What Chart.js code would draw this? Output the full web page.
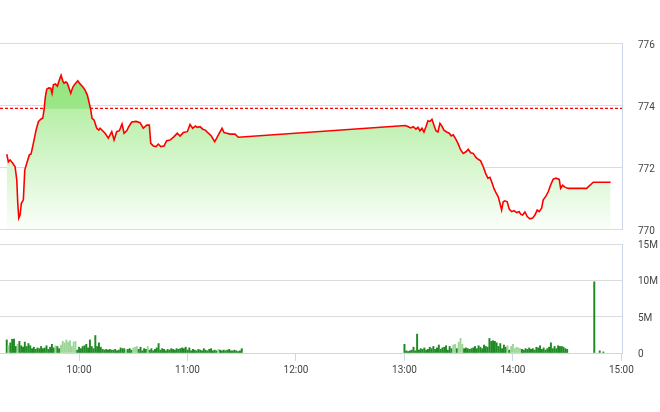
<!DOCTYPE html>
<html><head><meta charset="utf-8">
<script src="https://cdn.jsdelivr.net/npm/chart.js@4.4.1/dist/chart.umd.min.js"></script>
<style>
html,body{margin:0;padding:0;background:#fff;width:660px;height:412px;overflow:hidden}
canvas{position:absolute;left:0;display:block}
#price{top:0}
#vol{top:236px}
</style></head><body>
<canvas id="price" width="660" height="238" style="width:660px;height:238px"></canvas>
<canvas id="vol" width="660" height="176" style="width:660px;height:176px"></canvas>
<script>
// ---------- data ----------
const priceTimes = [
"09:20:00","09:20:54","09:21:50","09:23:20","09:24:37","09:25:33","09:26:06","09:26:39","09:27:22","09:28:05",
"09:29:11","09:29:58","09:31:04","09:32:31","09:33:27","09:34:43","09:36:13","09:37:29","09:38:49","09:39:55",
"09:40:38","09:41:22","09:42:08","09:43:14","09:44:21","09:45:04","09:45:47","09:46:53","09:48:00","09:49:06",
"09:50:02","09:50:59","09:51:42","09:52:38","09:53:32","09:54:28","09:55:25","09:56:31","09:57:47","09:59:17",
"10:00:33","10:02:02","10:03:19","10:04:35","10:05:41","10:06:28","10:07:11","10:08:17","10:09:47","10:10:53",
"10:11:37","10:14:23","10:16:12","10:18:05","10:19:21","10:20:51","10:22:17","10:23:47","10:24:53","10:26:23",
"10:27:29","10:29:08","10:31:31","10:33:44","10:35:33","10:37:26","10:38:52","10:39:39","10:41:05","10:42:35",
"10:43:51","10:45:11","10:47:00","10:48:29","10:50:19","10:52:32","10:54:22","10:55:51","10:57:40","10:59:53",
"11:01:23","11:02:52","11:04:19","11:05:25","11:06:55","11:08:24","11:09:50","11:11:30","11:13:10","11:15:02",
"11:16:08","11:17:35","11:19:05","11:20:11","11:21:41","11:23:30","11:26:16","11:28:05",
"13:00:30","13:02:06","13:03:25","13:04:52","13:06:22","13:07:28","13:08:34","13:09:41","13:10:47","13:11:53",
"13:13:00","13:14:06","13:15:13","13:16:19","13:17:25","13:18:31","13:19:38","13:20:44","13:21:50","13:23:20",
"13:24:46","13:25:53","13:26:59","13:28:29","13:29:35","13:31:05","13:32:31","13:34:01","13:35:17","13:36:37",
"13:38:02","13:39:32","13:40:49","13:42:08","13:43:35","13:45:04","13:46:10","13:47:17","13:48:23","13:49:29",
"13:50:36","13:51:52","13:52:49","13:53:45","13:54:38","13:55:35","13:56:51","13:57:57","13:59:17","14:00:33",
"14:02:03","14:03:29","14:04:16","14:05:22","14:06:38","14:07:55","14:09:24","14:10:53","14:12:10","14:13:26",
"14:14:32","14:15:52","14:16:46","14:18:15","14:19:31","14:20:51","14:22:17","14:23:47","14:25:37","14:26:23",
"14:27:29","14:28:46","14:30:35","14:40:46","14:44:25","14:54:02"
];
const priceValues = [
772.41,772.17,772.23,772.12,772.01,771.58,770.83,770.35,770.45,770.83,
770.94,771.90,772.12,772.39,772.42,772.76,773.19,773.46,773.54,773.57,
773.84,774.27,774.51,774.55,774.54,774.38,774.65,774.68,774.61,774.81,
774.96,774.78,774.70,774.75,774.70,774.54,774.38,774.57,774.68,774.78,
774.68,774.59,774.48,774.32,774.05,773.84,773.57,773.52,773.25,773.19,
773.25,773.09,772.93,773.14,772.87,773.14,773.17,773.39,773.09,773.17,
773.30,773.45,773.47,773.43,773.25,773.35,773.35,772.76,772.68,772.66,
772.74,772.66,772.68,772.85,772.87,772.98,773.09,773.00,773.11,773.14,
773.37,773.25,773.32,773.28,773.30,773.22,773.19,773.09,773.00,772.82,
772.93,773.09,773.25,773.11,773.09,773.06,773.06,772.96,
773.34,773.30,773.26,773.30,773.22,773.28,773.17,773.25,773.13,773.30,
773.49,773.47,773.54,773.35,773.17,773.13,773.41,773.32,773.19,773.13,
773.09,773.00,773.04,772.89,772.76,772.55,772.44,772.49,772.57,772.46,
772.44,772.31,772.25,772.20,772.01,771.77,771.64,771.67,771.50,771.31,
771.17,771.04,770.83,770.61,770.88,770.91,770.88,770.64,770.56,770.59,
770.53,770.56,770.48,770.45,770.55,770.40,770.33,770.35,770.45,770.61,
770.56,770.67,770.94,771.06,771.20,771.42,771.61,771.64,771.60,771.31,
771.41,771.35,771.31,771.31,771.51,771.51
];
const referencePrice = 773.89;
const priceTicks = [770, 772, 774, 776];

// volume per minute (millions), morning session from 09:20, afternoon from 13:00
const volMorningStart = "09:20";
const volMorning = [
1.8,1.0,1.4,1.9,1.9,0.9,1.2,1.6,1.0,0.8,
1.5,0.9,1.3,1.0,0.6,0.8,0.5,0.7,0.6,0.9,
0.6,0.7,1.0,0.5,0.8,1.2,0.7,1.0,0.9,0.6,
1.1,1.6,1.4,1.8,1.5,1.7,0.9,1.5,1.6,0.4,
0.8,0.6,0.9,1.0,1.2,0.7,1.8,0.9,0.6,2.4,
0.9,1.4,0.8,0.5,0.4,0.5,0.4,0.5,0.4,0.4,
0.5,0.3,0.4,0.7,0.6,0.6,0.4,0.5,0.6,0.4,
0.7,0.8,0.9,0.5,0.8,0.3,0.6,0.5,0.9,0.4,
0.6,0.3,0.5,0.7,1.3,0.4,0.6,0.5,0.3,0.5,
0.4,0.6,0.5,0.4,0.6,0.5,0.6,0.7,0.6,0.8,
0.4,0.7,0.3,0.5,0.4,0.3,0.5,0.4,0.3,0.6,
0.4,0.3,0.5,0.6,0.3,0.4,0.3,0.5,0.4,0.3,
0.4,0.3,0.4,0.5,0.3,0.3,0.4,0.3,0.2,0.3,
0.6
];
const volMorningShade =
"dlddddlddd"+"dddddddddd"+"dddddddldd"+"llllllllld"+"dddddddddd"+"dddddddddd"+"ddddddlddd"+
"llldddddld"+"dddddddddd"+"dddddddddd"+"dddddddddd"+"dddddddldd"+"dddddddddd"+"d";
const volAfternoonStart = "13:00";
const volAfternoon = [
1.2,0.3,0.2,0.3,0.4,0.8,0.3,2.6,0.4,0.6,
0.5,0.7,0.4,0.5,0.8,0.6,0.9,0.5,0.7,1.1,
0.5,0.7,0.8,1.0,0.4,0.9,0.6,1.1,1.2,0.6,
1.5,2.0,1.2,0.6,0.7,0.6,0.5,0.6,0.7,0.9,
0.6,1.0,0.8,0.6,1.1,0.9,0.8,2.0,1.6,1.7,
1.6,1.4,0.9,1.3,0.6,1.1,0.8,1.0,0.4,0.9,
1.2,0.6,0.8,0.7,0.6,0.5,0.4,0.6,0.5,0.7,
0.5,0.6,0.4,0.8,0.7,1.0,0.5,0.7,0.4,0.6,
0.8,1.4,0.6,0.9,0.6,1.0,0.9,0.9,0.8,0.6,
0.5
];
const volAfternoonShade =
"dddddddddd"+"dddddddddd"+"dddddddlld"+"lllddddddd"+"dddddddddd"+"dddddddldl"+"lllllddddd"+
"dddddddddd"+"dddddddddd"+"d";
const volCloseTimes = ["14:45","14:48","14:50"];
const volClose = [9.8, 0.3, 0.15];
const volCloseShade = "ddd";

const timeTicks = ["10:00","11:00","12:00","13:00","14:00","15:00"];
const volumeTicks = [0, 5, 10, 15];
const axisStart = "09:16:16", axisEnd = "15:00:20";

// ---------- helpers ----------
function toSec(t){const p=t.split(':').map(Number);return p[0]*3600+p[1]*60+(p[2]||0);}
function fmtTime(s){const h=Math.floor(s/3600),m=Math.round((s-h*3600)/60);return h+':'+String(m).padStart(2,'0');}
const xMin = toSec(axisStart), xMax = toSec(axisEnd);
const FONT = {family:'Roboto', size:10};
const TICK_COLOR = '#444';
const GRID = '#dcdcdc';
const AXIS = '#ccd6eb';
function fixY(s){ s.width = 38; s.paddingTop = 0; s.paddingBottom = 0; }

const priceData = priceTimes.map((t,i)=>({x:toSec(t), y:priceValues[i]}));
const refData = [{x:xMin,y:referencePrice},{x:xMax,y:referencePrice}];

const volData = [], volColors = [];
const DARK = '#1f8a24', LIGHT = '#9ed69a';
function addSession(start, vals, shades){
  const s0 = toSec(start);
  vals.forEach((v,i)=>{volData.push({x:s0+i*60,y:v});volColors.push(shades[i]==='l'?LIGHT:DARK);});
}
addSession(volMorningStart, volMorning, volMorningShade);
addSession(volAfternoonStart, volAfternoon, volAfternoonShade);
volCloseTimes.forEach((t,i)=>{volData.push({x:toSec(t),y:volClose[i]});volColors.push(volCloseShade[i]==='l'?LIGHT:DARK);});

function fillGradient(ctx){
  const chart = ctx.chart, a = chart.chartArea;
  if(!a) return 'rgba(0,0,0,0)';
  const ry = chart.scales.y.getPixelForValue(referencePrice);
  let f = (ry - a.top)/(a.bottom - a.top); f = Math.max(0, Math.min(0.99, f));
  const g = chart.ctx.createLinearGradient(0, a.top, 0, a.bottom);
  g.addColorStop(0, 'rgb(140,226,118)');
  g.addColorStop(f, 'rgb(156,231,136)');
  g.addColorStop(f+0.003, 'rgb(184,239,168)');
  g.addColorStop(1, 'rgb(250,254,249)');
  return g;
}

// ---------- price chart ----------
new Chart(document.getElementById('price'), {
  type:'line',
  data:{datasets:[
    {data:priceData, borderColor:'#ff0000', borderWidth:1.6, pointRadius:0, tension:0,
     fill:'start', backgroundColor:fillGradient, order:1},
    {data:refData, borderColor:'#ff0000', borderWidth:1.3, borderDash:[3,2], pointRadius:0, fill:false, order:2}
  ]},
  options:{
    responsive:false, animation:false, devicePixelRatio:1,
    layout:{padding:{top:43,bottom:9,left:0,right:0}},
    plugins:{legend:{display:false}, tooltip:{enabled:false}},
    scales:{
      x:{type:'linear', min:xMin, max:xMax, display:false},
      y:{position:'right', min:770, max:776,
         afterFit:fixY,
         afterBuildTicks:s=>{s.ticks=priceTicks.map(v=>({value:v}));},
         grid:{color:GRID, drawTicks:false},
         border:{display:true, color:AXIS},
         ticks:{padding:16, labelOffset:2, color:TICK_COLOR, font:FONT, callback:v=>String(v)}}
    }
  }
});

// ---------- volume chart ----------
new Chart(document.getElementById('vol'), {
  type:'bar',
  data:{datasets:[{data:volData, backgroundColor:volColors, borderWidth:0, barThickness:1.3, grouped:false}]},
  options:{
    responsive:false, animation:false, devicePixelRatio:1,
    layout:{padding:{top:8,bottom:0,left:0,right:0}},
    plugins:{legend:{display:false}, tooltip:{enabled:false}},
    scales:{
      x:{type:'linear', min:xMin, max:xMax, offset:false,
         afterFit:s=>{s.height=59;},
         afterBuildTicks:s=>{s.ticks=timeTicks.map(t=>({value:toSec(t)}));},
         grid:{offset:false, drawOnChartArea:false, drawTicks:true, tickLength:8, color:AXIS},
         border:{display:true, color:AXIS},
         ticks:{padding:3, color:TICK_COLOR, font:FONT, maxRotation:0, autoSkip:false, callback:v=>fmtTime(v)}},
      y:{position:'right', min:0, max:15,
         afterFit:fixY,
         afterBuildTicks:s=>{s.ticks=volumeTicks.map(v=>({value:v}));},
         grid:{color:c=>c.tick && c.tick.value===0 ? 'rgba(0,0,0,0)' : GRID, drawTicks:false},
         border:{display:true, color:AXIS},
         ticks:{padding:16, labelOffset:1.5, color:TICK_COLOR, font:FONT, callback:v=>v===0?'0':v+'M'}}
    }
  }
});
</script>
</body></html>
